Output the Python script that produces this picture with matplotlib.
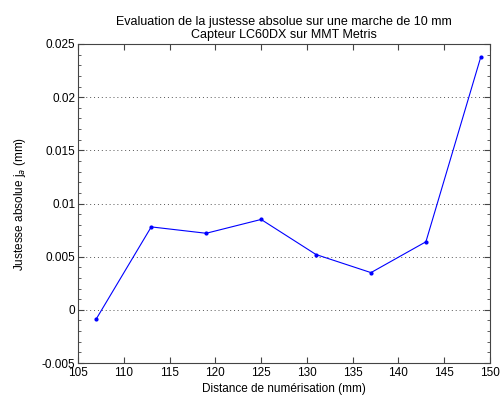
import matplotlib
matplotlib.use('Agg')
import matplotlib.pyplot as plt
from matplotlib.ticker import MultipleLocator

# distance de numerisation (mm) et justesse absolue mesuree (mm)
distance = [107, 113, 119, 125, 131, 137, 143, 149]
justesse = [-0.00085, 0.0078, 0.0072, 0.0085, 0.0052, 0.0035, 0.0064, 0.0238]
yticks = [-0.005, 0, 0.005, 0.01, 0.015, 0.02, 0.025]
ylabels = ['-0.005', '0', '0.005', '0.01', '0.015', '0.02', '0.025']

plt.rcParams['font.family'] = ['Liberation Sans', 'DejaVu Sans']
plt.rcParams['font.size'] = 8.5

fig = plt.figure(figsize=(5.01, 3.98), dpi=100)
ax = fig.add_axes([78/501, 1 - 363/398, 412/501, 319/398])

ax.plot(distance, justesse, color='#0000ff', linewidth=0.8, marker='.', markersize=4)

ax.set_xlim(105, 150)
ax.set_ylim(-0.005, 0.025)
ax.xaxis.set_major_locator(MultipleLocator(5))
ax.set_yticks(yticks)
ax.set_yticklabels(ylabels)
ax.yaxis.set_minor_locator(MultipleLocator(0.001))

ax.tick_params(which='both', direction='in', top=True, right=True, colors='#444444', labelcolor='black', pad=2)
ax.tick_params(axis='x', pad=3)
ax.tick_params(which='major', length=4)
ax.tick_params(which='minor', length=2)
for s in ax.spines.values():
    s.set_color('#444444')
    s.set_linewidth(0.8)

# lignes de grille horizontales seulement
ax.grid(True, axis='y', which='major', linestyle=(0, (1, 3)), color='#555555', linewidth=0.7)

ax.set_title('Evaluation de la justesse absolue sur une marche de 10 mm\nCapteur LC60DX sur MMT Metris',
             fontsize=9, pad=4, linespacing=1.2)
ax.set_xlabel('Distance de numérisation (mm)', labelpad=3)
ax.set_ylabel('Justesse absolue j$_a$ (mm)', labelpad=10)

fig.savefig('out.png', dpi=100)
